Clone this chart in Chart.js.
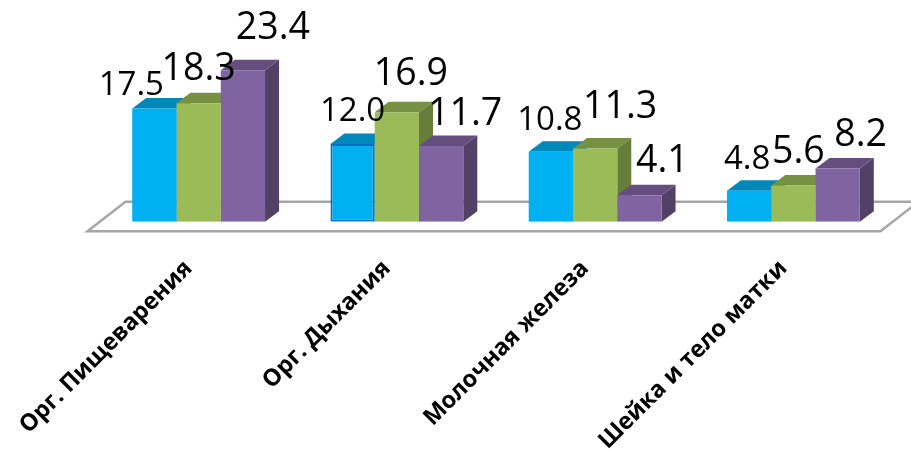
<!DOCTYPE html>
<html><head><meta charset="utf-8">
<script src="https://cdn.jsdelivr.net/npm/chart.js@4"></script>
<style>html,body{margin:0;padding:0;background:#fff}#w{width:911px;height:450px;position:relative}</style>
</head><body><div id="w"><canvas id="c"></canvas></div>
<script>
const categories = ["Орг. Пищеварения", "Орг. Дыхания", "Молочная железа", "Шейка и тело матки"];
const seriesA = [17.5, 12.0, 10.8, 4.8];
const seriesB = [18.3, 16.9, 11.3, 5.6];
const seriesC = [23.4, 11.7, 4.1, 8.2];

const frontColors = ["#00b0f0", "#9bbb59", "#8064a2"];
const topColors = ["#0088b8", "#769044", "#644d7f"];
const sideColors = ["#0079a5", "#677d3a", "#534066"];
const labelFonts = [33, 37.5, 37.5];
// label centre relative to the bar's top-centre [dx, dy], by series then category
const labelShift = [
  [[-23,-23],[0,-32],[-1,-31],[-2,-31]],
  [[0,-34],[14,-38],[25,-41],[5,-33]],
  [[30,-42],[24,-32],[23,-34],[23,-33]]
];
const DX = 14, DY = 10.5;

const depthPlugin = {
  id: "depth",
  beforeDatasetsDraw(chart) {
    const ctx = chart.ctx, a = chart.chartArea;
    const base = chart.scales.y.getPixelForValue(0);
    // floor
    ctx.save();
    ctx.beginPath();
    ctx.moveTo(a.left - 12, base + 9.5);
    ctx.lineTo(a.left + 26, base - 20);
    ctx.lineTo(a.right + 26, base - 20);
    ctx.lineTo(a.right - 12, base + 9.5);
    ctx.closePath();
    ctx.fillStyle = "#fff"; ctx.fill();
    ctx.strokeStyle = "#a6a6a6"; ctx.lineWidth = 2.5; ctx.stroke();
    // side and top faces, painted left to right
    categories.forEach((_, i) => {
      chart.data.datasets.forEach((ds, s) => {
        const b = chart.getDatasetMeta(s).data[i];
        const l = b.x - b.width / 2, r = b.x + b.width / 2, t = b.y;
        ctx.fillStyle = sideColors[s];
        ctx.beginPath();
        ctx.moveTo(r, t); ctx.lineTo(r + DX, t - DY); ctx.lineTo(r + DX, base - DY); ctx.lineTo(r, base);
        ctx.closePath(); ctx.fill();
        ctx.fillStyle = topColors[s];
        ctx.beginPath();
        ctx.moveTo(l, t); ctx.lineTo(l + DX, t - DY); ctx.lineTo(r + DX, t - DY); ctx.lineTo(r, t);
        ctx.closePath(); ctx.fill();
      });
    });
    ctx.restore();
  },
  afterDatasetsDraw(chart) {
    const ctx = chart.ctx;
    ctx.save();
    ctx.fillStyle = "#000";
    ctx.textAlign = "center";
    ctx.textBaseline = "middle";
    chart.data.datasets.forEach((ds, s) => {
      ctx.font = labelFonts[s] + 'px "Open Sans"';
      ds.data.forEach((v, i) => {
        const b = chart.getDatasetMeta(s).data[i];
        ctx.fillText(v.toFixed(1), b.x + labelShift[s][i][0], b.y + labelShift[s][i][1]);
      });
    });
    ctx.restore();
  }
};

new Chart(document.getElementById("c"), {
  type: "bar",
  data: {
    labels: categories,
    datasets: [
      { label: "A", data: seriesA, backgroundColor: frontColors[0], borderColor: "#0070c0", borderWidth: [0, 2, 0, 0], borderSkipped: false },
      { label: "B", data: seriesB, backgroundColor: frontColors[1], borderWidth: 0 },
      { label: "C", data: seriesC, backgroundColor: frontColors[2], borderWidth: 0 }
    ]
  },
  options: {
    responsive: true,
    maintainAspectRatio: false,
    animation: false,
    layout: { padding: { left: 99.5, right: 18.5, top: 27.5, bottom: 0 } },
    categoryPercentage: 0.67,
    barPercentage: 1,
    plugins: { legend: { display: false }, tooltip: { enabled: false } },
    scales: {
      y: { display: false, min: 0, max: 30 },
      x: {
        grid: { display: false, drawTicks: false },
        border: { display: false },
        afterFit(scale) { scale.height = 228.3; scale.paddingLeft = 0; scale.paddingRight = 0; },
        ticks: {
          autoSkip: false, minRotation: 45, maxRotation: 45, padding: 33, labelOffset: -10,
          color: "#000",
          font: { family: '"Open Sans"', weight: "bold", size: 23.5 }
        }
      }
    }
  },
  plugins: [depthPlugin]
});
</script></body></html>
